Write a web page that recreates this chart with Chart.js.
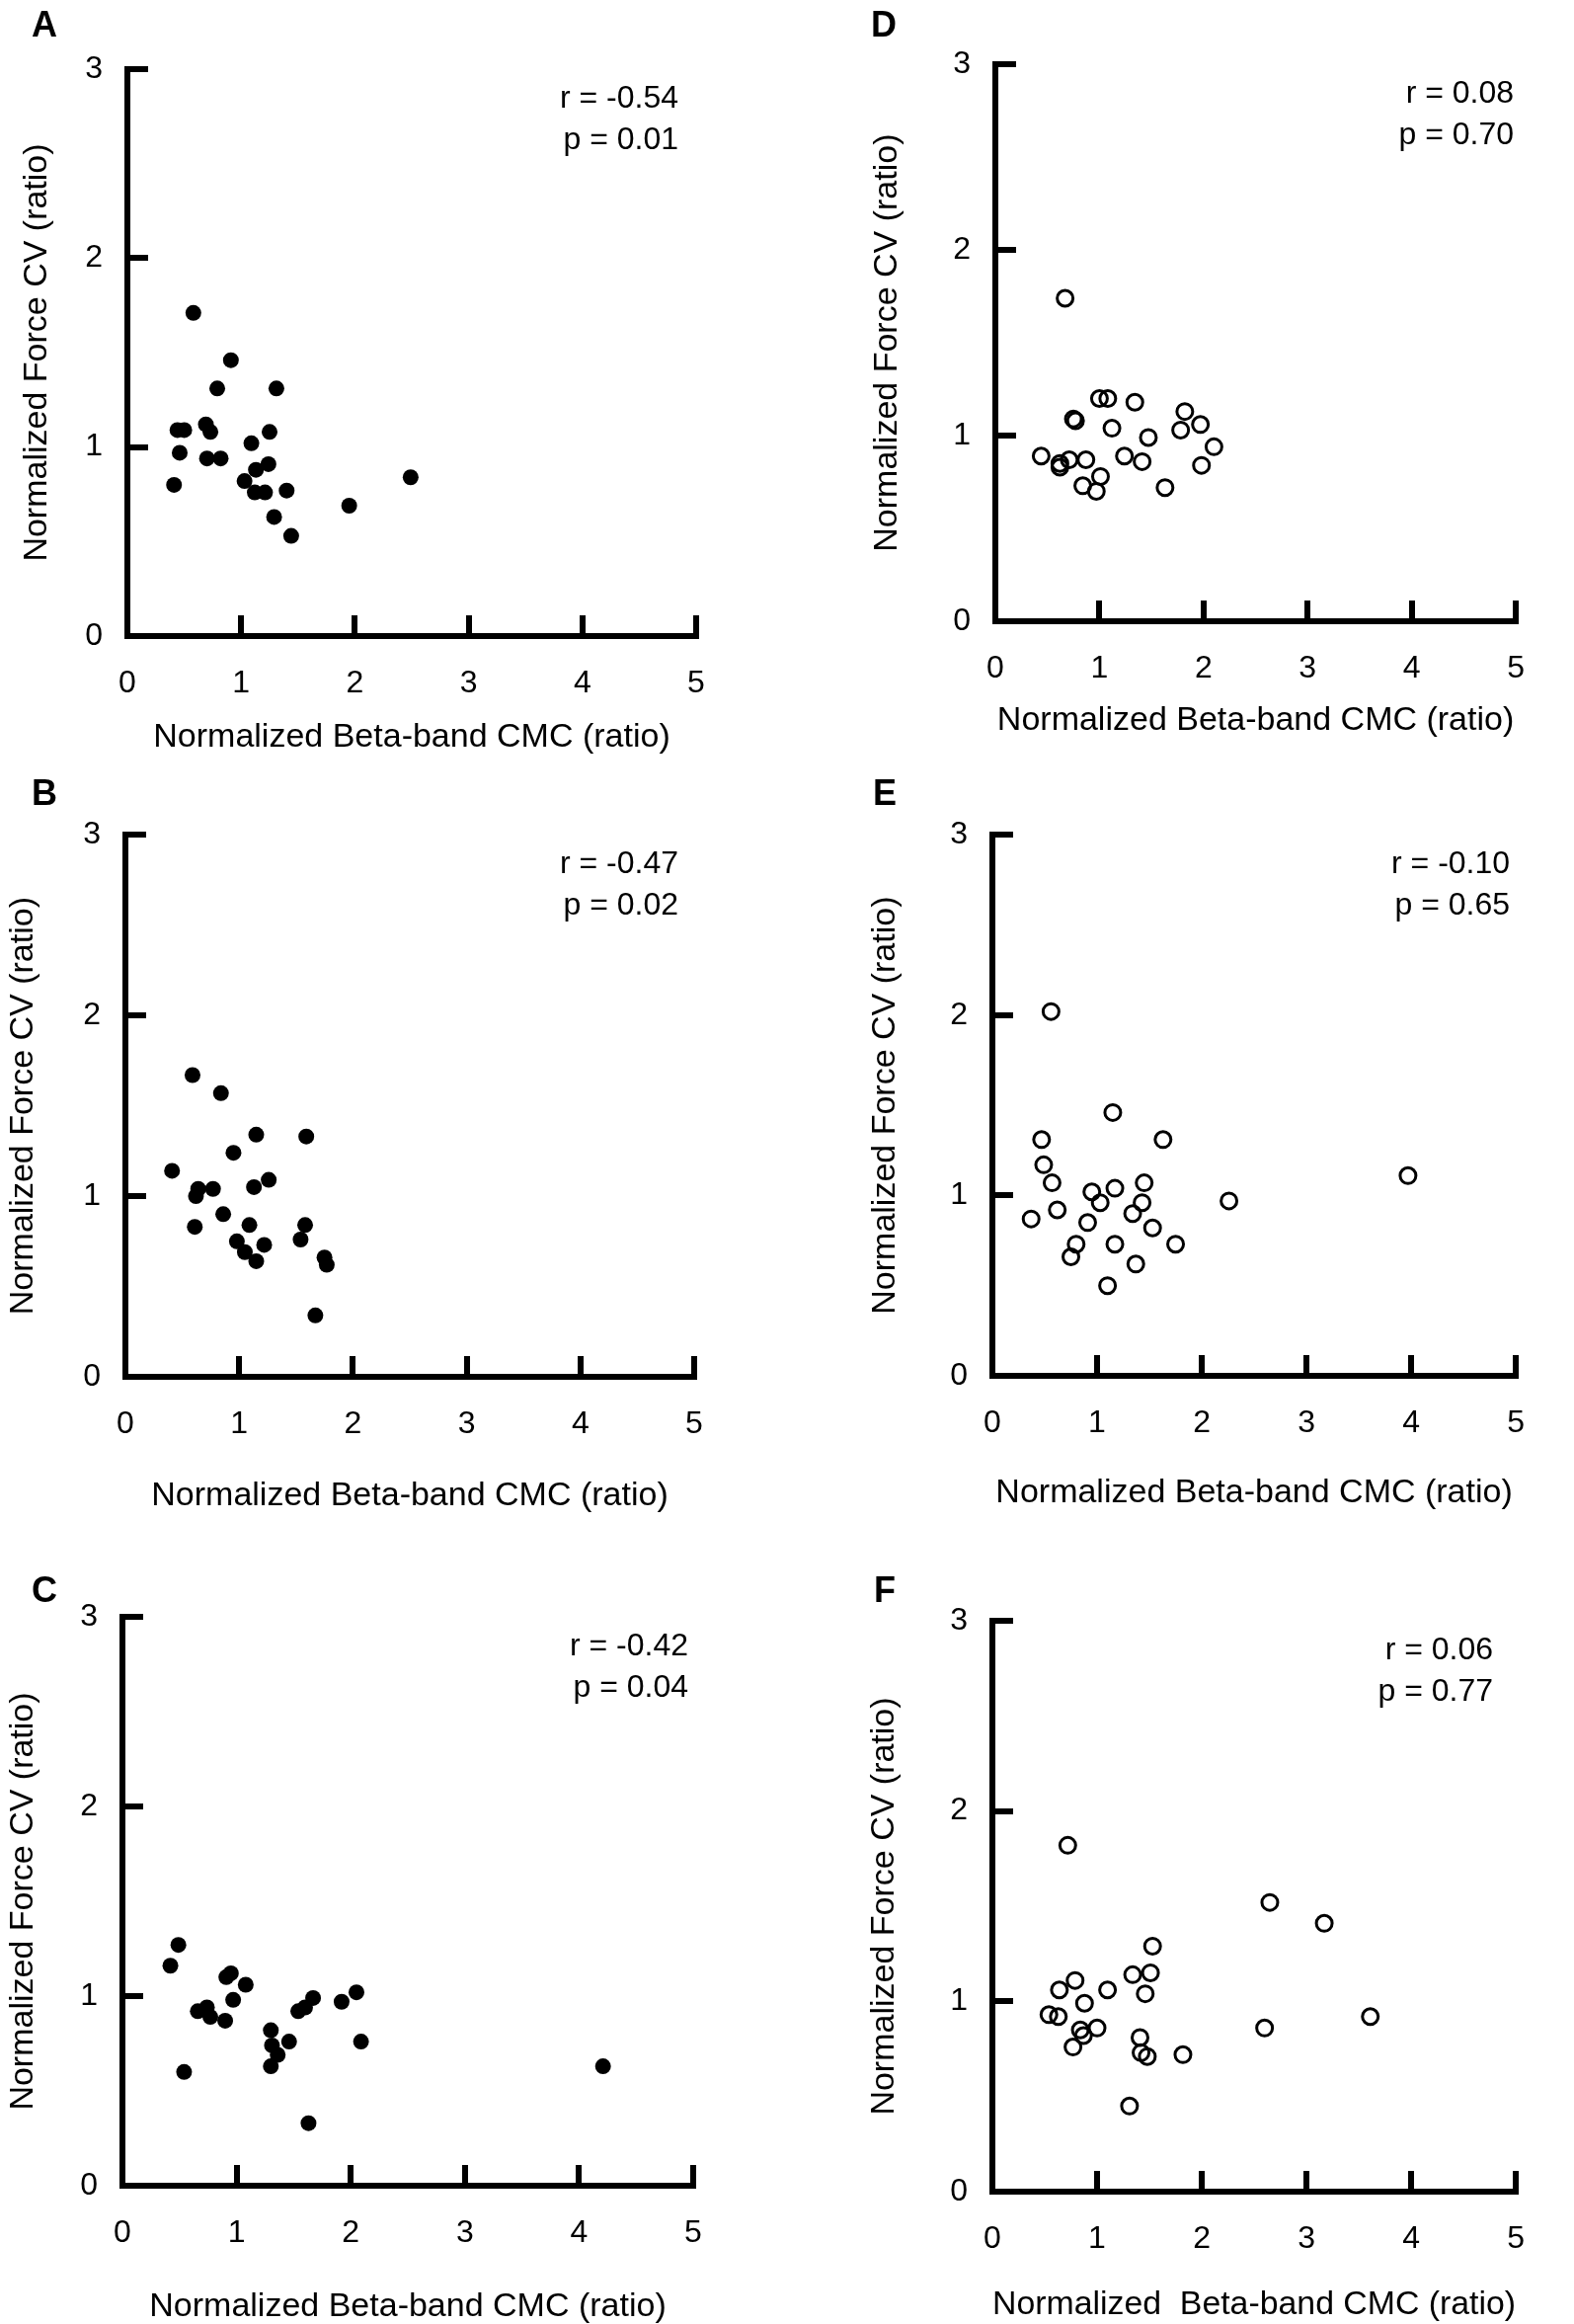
<!DOCTYPE html>
<html>
<head>
<meta charset="utf-8">
<script src="https://cdn.jsdelivr.net/npm/chart.js@4.4.1/dist/chart.umd.min.js"></script>
<style>
  body { margin: 0; background: #fff; }
  #wrap { position: relative; width: 1594px; height: 2353px; background: #fff; }
  canvas { position: absolute; }
</style>
</head>
<body>
<div id="wrap">
  <canvas id="cA" width="780" height="780" style="left:0;top:0"></canvas>
  <canvas id="cB" width="780" height="780" style="left:0;top:780px"></canvas>
  <canvas id="cC" width="780" height="793" style="left:0;top:1560px"></canvas>
  <canvas id="cD" width="794" height="780" style="left:800px;top:0"></canvas>
  <canvas id="cE" width="794" height="780" style="left:800px;top:780px"></canvas>
  <canvas id="cF" width="794" height="793" style="left:800px;top:1560px"></canvas>
</div>
<script>
// values (x = beta-band CMC, y = force CV)
const aX = [0.58, 0.91, 0.79, 1.31, 0.44, 0.50, 0.69, 0.73, 1.25, 1.09, 0.46, 0.70, 0.82, 1.24, 1.13, 1.03, 1.12, 1.21, 1.40, 0.41, 1.29, 1.44, 1.95, 2.49];
const aY = [1.71, 1.46, 1.31, 1.31, 1.09, 1.09, 1.12, 1.08, 1.08, 1.02, 0.97, 0.94, 0.94, 0.91, 0.88, 0.82, 0.76, 0.76, 0.77, 0.80, 0.63, 0.53, 0.69, 0.84];

const bX = [0.59, 0.84, 1.15, 1.59, 0.95, 0.41, 0.64, 0.62, 0.77, 1.13, 1.26, 0.86, 0.61, 1.09, 1.58, 1.54, 0.98, 1.05, 1.15, 1.22, 1.75, 1.77, 1.67];
const bY = [1.67, 1.57, 1.34, 1.33, 1.24, 1.14, 1.04, 1.00, 1.04, 1.05, 1.09, 0.90, 0.83, 0.84, 0.84, 0.76, 0.75, 0.69, 0.64, 0.73, 0.66, 0.62, 0.34];

const cX = [0.49, 0.42, 0.54, 0.66, 0.74, 0.77, 0.90, 0.91, 0.95, 0.97, 1.08, 1.30, 1.31, 1.36, 1.30, 1.46, 1.54, 1.60, 1.67, 1.92, 2.05, 2.09, 1.63, 4.21];
const cY = [1.27, 1.16, 0.60, 0.92, 0.94, 0.89, 0.87, 1.10, 1.12, 0.98, 1.06, 0.82, 0.74, 0.69, 0.63, 0.76, 0.92, 0.94, 0.99, 0.97, 1.02, 0.76, 0.33, 0.63];

const dX = [0.67, 1.00, 1.08, 1.34, 0.75, 0.77, 1.12, 1.47, 1.82, 1.78, 1.97, 2.10, 1.98, 0.44, 0.62, 0.62, 0.71, 0.87, 1.24, 1.41, 1.01, 0.84, 0.97, 1.63];
const dY = [1.74, 1.20, 1.20, 1.18, 1.09, 1.08, 1.04, 0.99, 1.13, 1.03, 1.06, 0.94, 0.84, 0.89, 0.85, 0.83, 0.87, 0.87, 0.89, 0.86, 0.78, 0.73, 0.70, 0.72];

const eX = [0.56, 1.15, 0.47, 1.63, 0.49, 0.57, 0.95, 1.17, 1.45, 1.03, 1.43, 1.34, 2.26, 3.97, 0.62, 0.37, 0.91, 1.53, 0.80, 1.17, 1.75, 0.75, 1.37, 1.10];
const eY = [2.02, 1.46, 1.31, 1.31, 1.17, 1.07, 1.02, 1.04, 1.07, 0.96, 0.96, 0.90, 0.97, 1.11, 0.92, 0.87, 0.85, 0.82, 0.73, 0.73, 0.73, 0.66, 0.62, 0.50];

const fX = [0.72, 2.65, 3.17, 1.53, 1.34, 1.51, 0.79, 0.64, 1.10, 1.46, 0.88, 0.54, 0.63, 0.84, 0.87, 0.77, 1.00, 1.41, 1.42, 1.48, 1.82, 2.60, 3.61, 1.31];
const fY = [1.82, 1.52, 1.41, 1.29, 1.14, 1.15, 1.11, 1.06, 1.06, 1.04, 0.99, 0.93, 0.92, 0.85, 0.82, 0.76, 0.86, 0.81, 0.73, 0.71, 0.72, 0.86, 0.92, 0.45];

const xTicks = [0, 1, 2, 3, 4, 5];
const yTicks = [0, 1, 2, 3];

const letters = ["A", "B", "C", "D", "E", "F"];
const rText = ["r = -0.54", "r = -0.47", "r = -0.42", "r = 0.08", "r = -0.10", "r = 0.06"];
const pText = ["p = 0.01", "p = 0.02", "p = 0.04", "p = 0.70", "p = 0.65", "p = 0.77"];
const xTitles = ["Normalized Beta-band CMC (ratio)", "Normalized Beta-band CMC (ratio)", "Normalized Beta-band CMC (ratio)",
                 "Normalized Beta-band CMC (ratio)", "Normalized Beta-band CMC (ratio)", "Normalized  Beta-band CMC (ratio)"];
const yTitle = "Normalized Force CV (ratio)";

const FONT = "'Liberation Sans', Arial, Helvetica, sans-serif";

// letter, r and p text drawn on top of each panel
const panelText = {
  id: 'panelText',
  afterDraw(chart, args, o) {
    const ctx = chart.ctx, a = chart.chartArea;
    ctx.save();
    ctx.fillStyle = '#000';
    ctx.textBaseline = 'middle';
    ctx.textAlign = 'center';
    ctx.font = "bold 36px " + FONT;
    ctx.fillText(o.letter, o.lx, o.ly);
    ctx.textAlign = 'right';
    ctx.font = "32px " + FONT;
    ctx.fillText(o.r, a.right - o.rOff, a.top + 30);
    ctx.fillText(o.p, a.right - o.rOff, a.top + 72);
    ctx.restore();
  }
};

function makePanel(id, i, xs, ys, filled, b) {
  const cv = document.getElementById(id);
  const W = cv.width, H = cv.height;
  const pts = xs.map((x, k) => ({ x: x, y: ys[k] }));

  new Chart(cv, {
    type: 'scatter',
    data: {
      datasets: [{
        data: pts,
        pointRadius: 8,
        pointHoverRadius: 8,
        pointBackgroundColor: filled ? '#000' : 'rgba(0,0,0,0)',
        pointBorderColor: '#000',
        pointBorderWidth: filled ? 0 : 3
      }]
    },
    options: {
      responsive: false,
      animation: false,
      devicePixelRatio: 1,
      events: [],
      layout: { padding: { left: 0, top: b.top, right: W - b.right, bottom: 0 } },
      plugins: {
        legend: { display: false },
        tooltip: { enabled: false },
        panelText: { letter: letters[i], r: rText[i], p: pText[i], lx: b.lx, ly: b.ly, rOff: b.rOff }
      },
      scales: {
        x: {
          type: 'linear',
          min: xTicks[0],
          max: xTicks[xTicks.length - 1],
          afterBuildTicks: s => { s.ticks = xTicks.map(v => ({ value: v })); },
          ticks: { color: '#000', font: { family: FONT, size: 32 }, padding: 50, maxRotation: 0 },
          grid: { drawOnChartArea: false, tickLength: -21, color: '#000', lineWidth: 6 },
          border: { color: '#000', width: 6 },
          title: {
            display: true, text: xTitles[i], color: '#000',
            font: { family: FONT, size: 34, lineHeight: 1.2 },
            padding: { top: 0, bottom: H - b.xt - 20.4 }
          },
          afterFit: s => { s.height = H - b.bottom; }
        },
        y: {
          type: 'linear',
          min: yTicks[0],
          max: yTicks[yTicks.length - 1],
          afterBuildTicks: s => { s.ticks = yTicks.map(v => ({ value: v })); },
          ticks: { color: '#000', font: { family: FONT, size: 32 }, padding: 46 },
          grid: { drawOnChartArea: false, tickLength: -21, color: '#000', lineWidth: 6 },
          border: { color: '#000', width: 6 },
          title: {
            display: true, text: yTitle, color: '#000',
            font: { family: FONT, size: 34, lineHeight: 1.2 },
            padding: { top: b.yt - 20.4, bottom: 0 }
          },
          afterFit: s => { s.width = b.left; }
        }
      }
    },
    plugins: [panelText]
  });
}

makePanel("cA", 0, aX, aY, true,  { left: 129, right: 705, top: 70, bottom: 644, yt: 38, xt: 747, lx: 45, ly: 27, rOff: 18 });
makePanel("cB", 1, bX, bY, true,  { left: 127, right: 703, top: 39, bottom: 614, yt: 24, xt: 735, lx: 45, ly: 25, rOff: 16 });
makePanel("cC", 2, cX, cY, true,  { left: 124, right: 702, top: 77, bottom: 653, yt: 24, xt: 776, lx: 45, ly: 52, rOff: 5 });
makePanel("cD", 3, dX, dY, false, { left: 208, right: 779, top: 53, bottom: 629, yt: 99, xt: 730, lx: 95, ly: 27, rOff: 2 });
makePanel("cE", 4, eX, eY, false, { left: 205, right: 778, top: 37, bottom: 613, yt: 97, xt: 732, lx: 96, ly: 25, rOff: 6 });
makePanel("cF", 5, fX, fY, false, { left: 205, right: 778, top: 81, bottom: 659, yt: 96, xt: 774, lx: 96, ly: 52, rOff: 23 });
</script>
</body>
</html>
